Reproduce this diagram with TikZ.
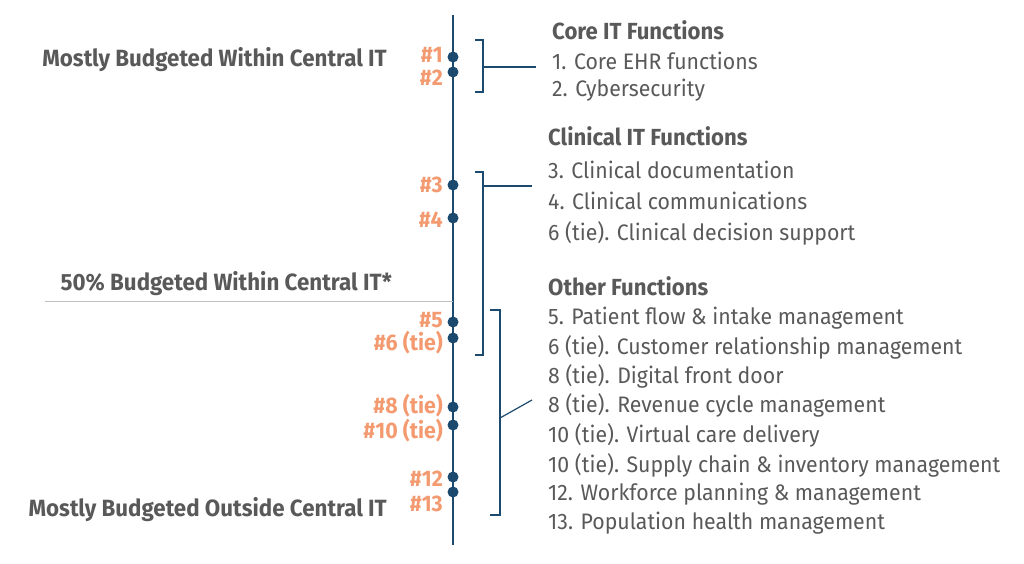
\documentclass[tikz,border=0pt]{standalone}
\usepackage{fontspec}
\setmainfont[FakeStretch=0.95]{Fira Sans}
\definecolor{navy}{HTML}{1B4A6E}
\definecolor{org}{HTML}{F39A70}
\definecolor{txt}{HTML}{595959}
\begin{document}
\begin{tikzpicture}[x=1pt,y=-1pt,
  dot/.style={circle,fill=navy,inner sep=0pt,minimum size=11pt},
  num/.style={anchor=east,text=org,font=\fontsize{22.5}{23}\selectfont\bfseries,inner sep=0pt},
  side/.style={anchor=east,text=txt,font=\fontsize{23.5}{24}\selectfont\bfseries,inner sep=0pt},
  head/.style={anchor=west,text=txt,font=\fontsize{23.3}{24}\selectfont\bfseries,inner sep=0pt},
  item/.style={anchor=west,text=txt,font=\fontsize{22.4}{24}\selectfont\light,inner sep=0pt},
  brk/.style={navy,line width=1.2pt}]
\providecommand\light{\fontseries{l}\selectfont}
\useasboundingbox (0,0) rectangle (1024,564);
\coordinate (lt) at (453,15); \coordinate (lb) at (453,545);
\draw[navy,line width=2.5pt] (lt) -- (lb);
\coordinate (g1) at (45,301); \coordinate (g2) at (453,301);
\draw[gray!50,line width=1pt] (g1) -- (g2);
\foreach \n/\y/\t in {a/55/\#1,b/78/\#2,c/185/\#3,d/220/\#4,e/320/\#5,f/343/\#6 (tie),g/406/\#8 (tie),h/431/\#10 (tie),i/479/\#12,j/504/\#13}{
  \node[num] (n\n) at (443,\y) {\t};
}
\foreach \n/\y in {a/57,b/72,c/185,d/218,e/322,f/338,g/407,h/425,i/477,j/492}{
  \node[dot] (d\n) at (453,\y) {};
}
\node[side] (s1) at (387,60) {Mostly Budgeted Within Central IT};
\node[side] (s2) at (392,284) {50\% Budgeted Within Central IT*};
\node[side] (s3) at (387,510) {Mostly Budgeted Outside Central IT};
% brackets
\draw[brk] (475,40) -- (483,40) -- (483,92) -- (475,92);
\coordinate (b1a) at (483,67); \coordinate (b1b) at (536,67);
\draw[brk] (b1a) -- (b1b);
\draw[brk] (475,172) -- (483,172) -- (483,355) -- (475,355);
\coordinate (b2a) at (483,186); \coordinate (b2b) at (532,186);
\draw[brk] (b2a) -- (b2b);
\draw[brk] (490,310) -- (500,310) -- (500,515) -- (490,515);
\coordinate (b3a) at (500,418); \coordinate (b3b) at (532,400);
\draw[brk] (b3a) -- (b3b);
% text
\node[head] (h1) at (552,30) {Core IT Functions};
\node[item] (i1) at (552,61) {1. Core EHR functions};
\node[item] (i2) at (552,90) {2. Cybersecurity};
\node[head] (h2) at (548,136) {Clinical IT Functions};
\node[item] (i3) at (548,170) {3. Clinical documentation};
\node[item] (i4) at (548,201) {4. Clinical communications};
\node[item] (i5) at (548,233) {6 (tie). Clinical decision support};
\node[head] (h3) at (548,286) {Other Functions};
\node[item] (o1) at (548,318) {5. Patient flow \& intake management};
\node[item] (o2) at (548,347) {6 (tie). Customer relationship management};
\node[item] (o3) at (548,376) {8 (tie). Digital front door};
\node[item] (o4) at (548,405) {8 (tie). Revenue cycle management};
\node[item] (o5) at (548,435) {10 (tie). Virtual care delivery};
\node[item] (o6) at (548,465) {10 (tie). Supply chain \& inventory management};
\node[item] (o7) at (548,494) {12. Workforce planning \& management};
\node[item] (o8) at (548,523) {13. Population health management};
\end{tikzpicture}
\end{document}
